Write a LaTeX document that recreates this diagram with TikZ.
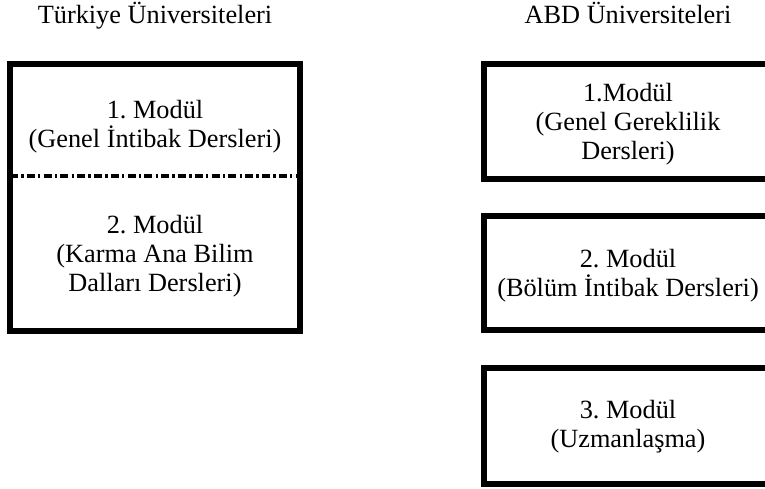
\documentclass[tikz,border=0pt]{standalone}
\usepackage{fontspec}
\setmainfont{Liberation Serif}
\frenchspacing

\begin{document}
\begin{tikzpicture}[
    x=0.5pt,
    y=-0.5pt,
    modulebox/.style={line width=3pt},
    splitline/.style={line width=1.8pt,dash pattern=on 4pt off 1.6pt on 1.2pt off 1.6pt},
    moduletext/.style={align=center,inner sep=0pt,font=\fontsize{13.15}{14.5}\selectfont},
    heading/.style={anchor=base,inner sep=0pt,font=\fontsize{13.15}{14.5}\selectfont}
]
    \useasboundingbox (0,0) rectangle (765,488);
    % Turkey
    \begin{scope}[
        shift={(155,0)}
    ]
        \node[heading] (tr title) at (0,23) {Türkiye Üniversiteleri};
        \draw[modulebox] (-145,64) rectangle (145,331);
        \draw[splitline] (-145,176) -- (145,176);
        \node[moduletext] (tr mod1) at (0,126.5) {1. Modül\\(Genel İntibak Dersleri)};
        \node[moduletext] (tr mod2) at (0,256) {2. Modül\\(Karma Ana Bilim\\Dalları Dersleri)};
    \end{scope}
    % USA
    \begin{scope}[
        shift={(628,0)}
    ]
        \node[heading] (abd title) at (0,23) {ABD Üniversiteleri};
        \draw[modulebox] (-144,64) rectangle (147,179);
        \draw[modulebox] (-144,216) rectangle (147,330);
        \draw[modulebox] (-144,368) rectangle (147,484);
        \node[moduletext] (abd mod1) at (0,124) {1.Modül\\(Genel Gereklilik\\Dersleri)};
        \node[moduletext] (abd mod2) at (0,276) {2. Modül\\(Bölüm İntibak Dersleri)};
        \node[moduletext] (abd mod3) at (0,426.5) {3. Modül\\(Uzmanlaşma)};
    \end{scope}
\end{tikzpicture}
\end{document}
